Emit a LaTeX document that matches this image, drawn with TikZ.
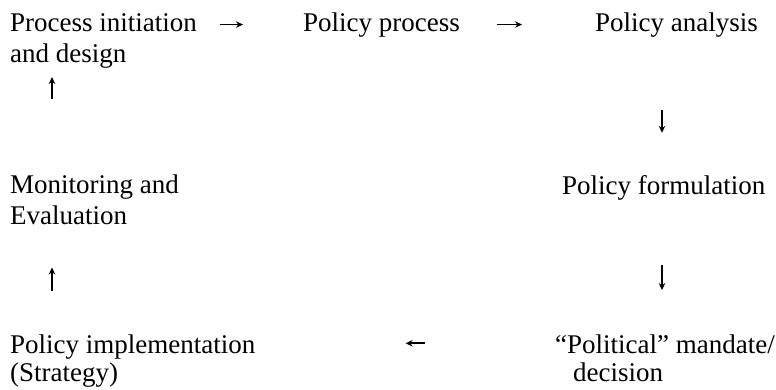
\documentclass[tikz,border=0pt]{standalone}
\usepackage{fontspec}
\setmainfont{Liberation Serif}
\usepackage{tikz}
\usetikzlibrary{calc,positioning,arrows.meta}
\tikzset{
	>={Stealth[length=7pt, width=6.5pt]},
	stage/.style={inner sep=0pt, anchor=base west, align=left, font=\fontsize{27}{31}\selectfont},
	flow/.style={->, line width=1.8pt},
}

\begin{document}
\begin{tikzpicture}[x=1pt, y=-1pt]
	\useasboundingbox (0,0) rectangle (776,389);
	% stages (base anchor sits on the last line)
	\node[stage] (init) at (10,62) {Process initiation\\and design};
	\node[stage] (process) at (303,31) {Policy process};
	\node[stage] (analysis) at (595,31) {Policy analysis};
	\node[stage] (formul) at (562,194) {Policy formulation};
	\node[stage] (mandate) at (555,381) {``Political'' mandate/\\[-3pt]\hspace*{18pt}decision};
	\node[stage] (implem) at (10,381) {Policy implementation\\[-3pt](Strategy)};
	\node[stage] (monitor) at (10,224) {Monitoring and\\Evaluation};
	% arrows
	\draw[flow, shorten <=23pt, shorten >=60pt] (init.east |- process.west) -- (process.west);
	\draw[flow, shorten <=37pt, shorten >=73pt] (process.east) -- (analysis.west);
	\draw[flow, shorten <=73pt, shorten >=42pt] ([xshift=67pt]analysis.south west) -- ([xshift=67pt]analysis.south west |- formul.north);
	\draw[flow, shorten <=65pt, shorten >=44pt] ([xshift=100pt]formul.south west) -- ([xshift=100pt]formul.south west |- mandate.north);
	\draw[flow, shorten <=130pt, shorten >=150pt] ([yshift=14.5pt]mandate.west) -- ([yshift=14.5pt]mandate.west -| implem.east);
	\draw[flow, shorten <=43pt, shorten >=43pt] ([xshift=42pt]implem.north west) -- ([xshift=42pt]implem.north west |- monitor.south);
	\draw[flow, shorten <=75pt, shorten >=9pt] ([xshift=42pt]monitor.north west) -- ([xshift=42pt]monitor.north west |- init.south);
\end{tikzpicture}
\end{document}
